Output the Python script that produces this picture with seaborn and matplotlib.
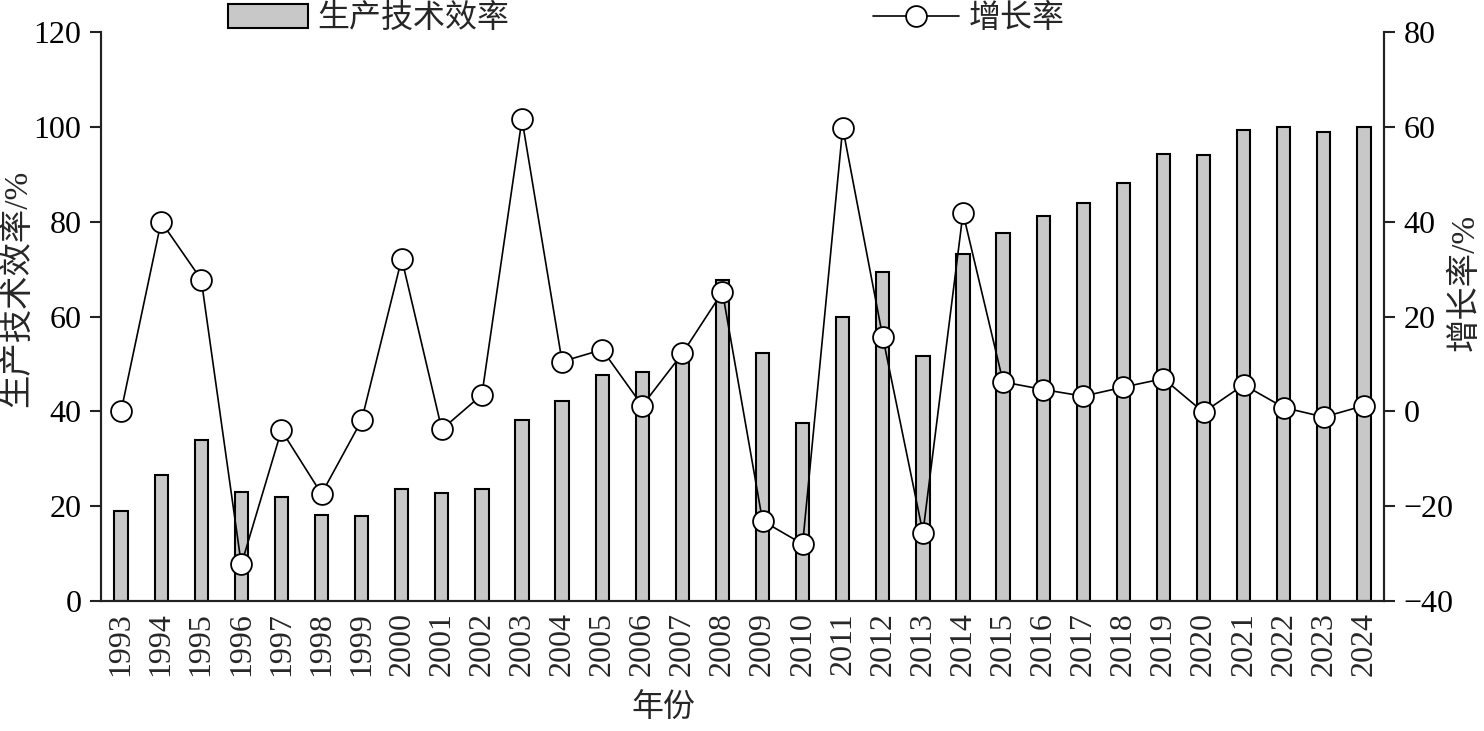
import numpy as np
import pandas as pd
import matplotlib
matplotlib.use("Agg")
import matplotlib.pyplot as plt
import seaborn as sns
from matplotlib.patches import Patch
from matplotlib.lines import Line2D

years = [str(y) for y in range(1993, 2025)]
efficiency = [19.0, 26.5, 34.0, 23.0, 22.0, 18.2, 18.0, 23.7, 22.8, 23.6,
              38.2, 42.2, 47.7, 48.3, 51.8, 67.7, 52.2, 37.5, 60.0, 69.3,
              51.7, 73.2, 77.7, 81.2, 83.9, 88.2, 94.2, 94.0, 99.3, 100.0,
              98.9, 100.0]
growth = [0.0, 40.0, 27.8, -32.3, -4.0, -17.4, -1.9, 32.2, -3.8, 3.5,
          61.6, 10.5, 13.0, 1.2, 12.2, 25.2, -23.1, -28.0, 59.8, 15.6,
          -25.6, 41.8, 6.2, 4.6, 3.2, 5.1, 6.9, -0.2, 5.6, 0.8,
          -1.2, 1.2]
left_ticks = [0, 20, 40, 60, 80, 100, 120]
right_ticks = [-40, -20, 0, 20, 40, 60, 80]

sns.set_theme(style="white")
plt.rcParams['font.family'] = ['Liberation Serif', 'Noto Sans CJK SC']
plt.rcParams['axes.unicode_minus'] = True
FS = 23

df = pd.DataFrame({"year": years, "eff": efficiency, "growth": growth,
                   "pos": np.arange(len(years))})

fig = plt.figure(figsize=(14.84, 7.31), dpi=100)
ax = fig.add_axes([101/1484, 1-601/731, (1384-101)/1484, (601-32)/731])

sns.barplot(data=df, x="year", y="eff", ax=ax, color="#c8c8c8",
            edgecolor="black", linewidth=1.5, width=0.33, saturation=1)
ax.set_ylim(0, 120)
ax.set_yticks(left_ticks)
ax.set_xlim(-0.5, len(years) - 0.5)

ax2 = ax.twinx()
sns.lineplot(data=df, x="pos", y="growth", ax=ax2, color="black",
             linewidth=1.2, marker="o", markersize=15,
             markerfacecolor="white", markeredgecolor="black",
             markeredgewidth=1.3)
ax2.set_ylim(-40, 80)
ax2.set_yticks(right_ticks)
ax2.set_xlim(-0.5, len(years) - 0.5)

for a in (ax, ax2):
    for s in a.spines.values():
        s.set_color("#222222")
        s.set_linewidth(1.5)
    a.spines["top"].set_visible(False)
    a.grid(False)

ax.set_xticks(np.arange(len(years)))
ax.set_xticklabels(years, rotation=90, fontsize=FS)
ax.tick_params(axis="x", length=0, pad=8)
ax.tick_params(axis="y", left=True, direction="out", length=8, width=1.5,
               labelsize=FS, pad=6, colors="#222222", labelcolor="black")
ax2.tick_params(axis="y", right=True, direction="out", length=8, width=1.5,
                labelsize=FS, pad=6, colors="#222222", labelcolor="black")

ax.set_xlabel("年份", fontsize=FS)
ax.xaxis.set_label_coords(0.438, -0.163)
ax.set_ylabel("生产技术效率/%", fontsize=FS + 1)
ax.yaxis.set_label_coords(-0.053, 0.55)
ax2.set_ylabel("增长率/%", fontsize=FS + 1, rotation=90)
ax2.yaxis.set_label_coords(1.051, 0.56)
ax2.set_xlabel("")

h1 = Patch(facecolor="#c8c8c8", edgecolor="black", linewidth=1.5)
h2 = Line2D([], [], color="black", linewidth=1.2, marker="o", markersize=15,
            markerfacecolor="white", markeredgecolor="black", markeredgewidth=1.3)
leg1 = fig.legend([h1], ["生产技术效率"], loc="center left",
                  bbox_to_anchor=(228/1484, 1-19/731), frameon=False,
                  fontsize=FS, borderpad=0, borderaxespad=0,
                  handlelength=2.5, handleheight=0.75, handletextpad=0.3)
leg2 = fig.legend([h2], ["增长率"], loc="center left",
                  bbox_to_anchor=(873/1484, 1-19/731), frameon=False,
                  fontsize=FS, borderpad=0, borderaxespad=0,
                  handlelength=2.7, handletextpad=0.3)

fig.savefig("out.png", dpi=100)
